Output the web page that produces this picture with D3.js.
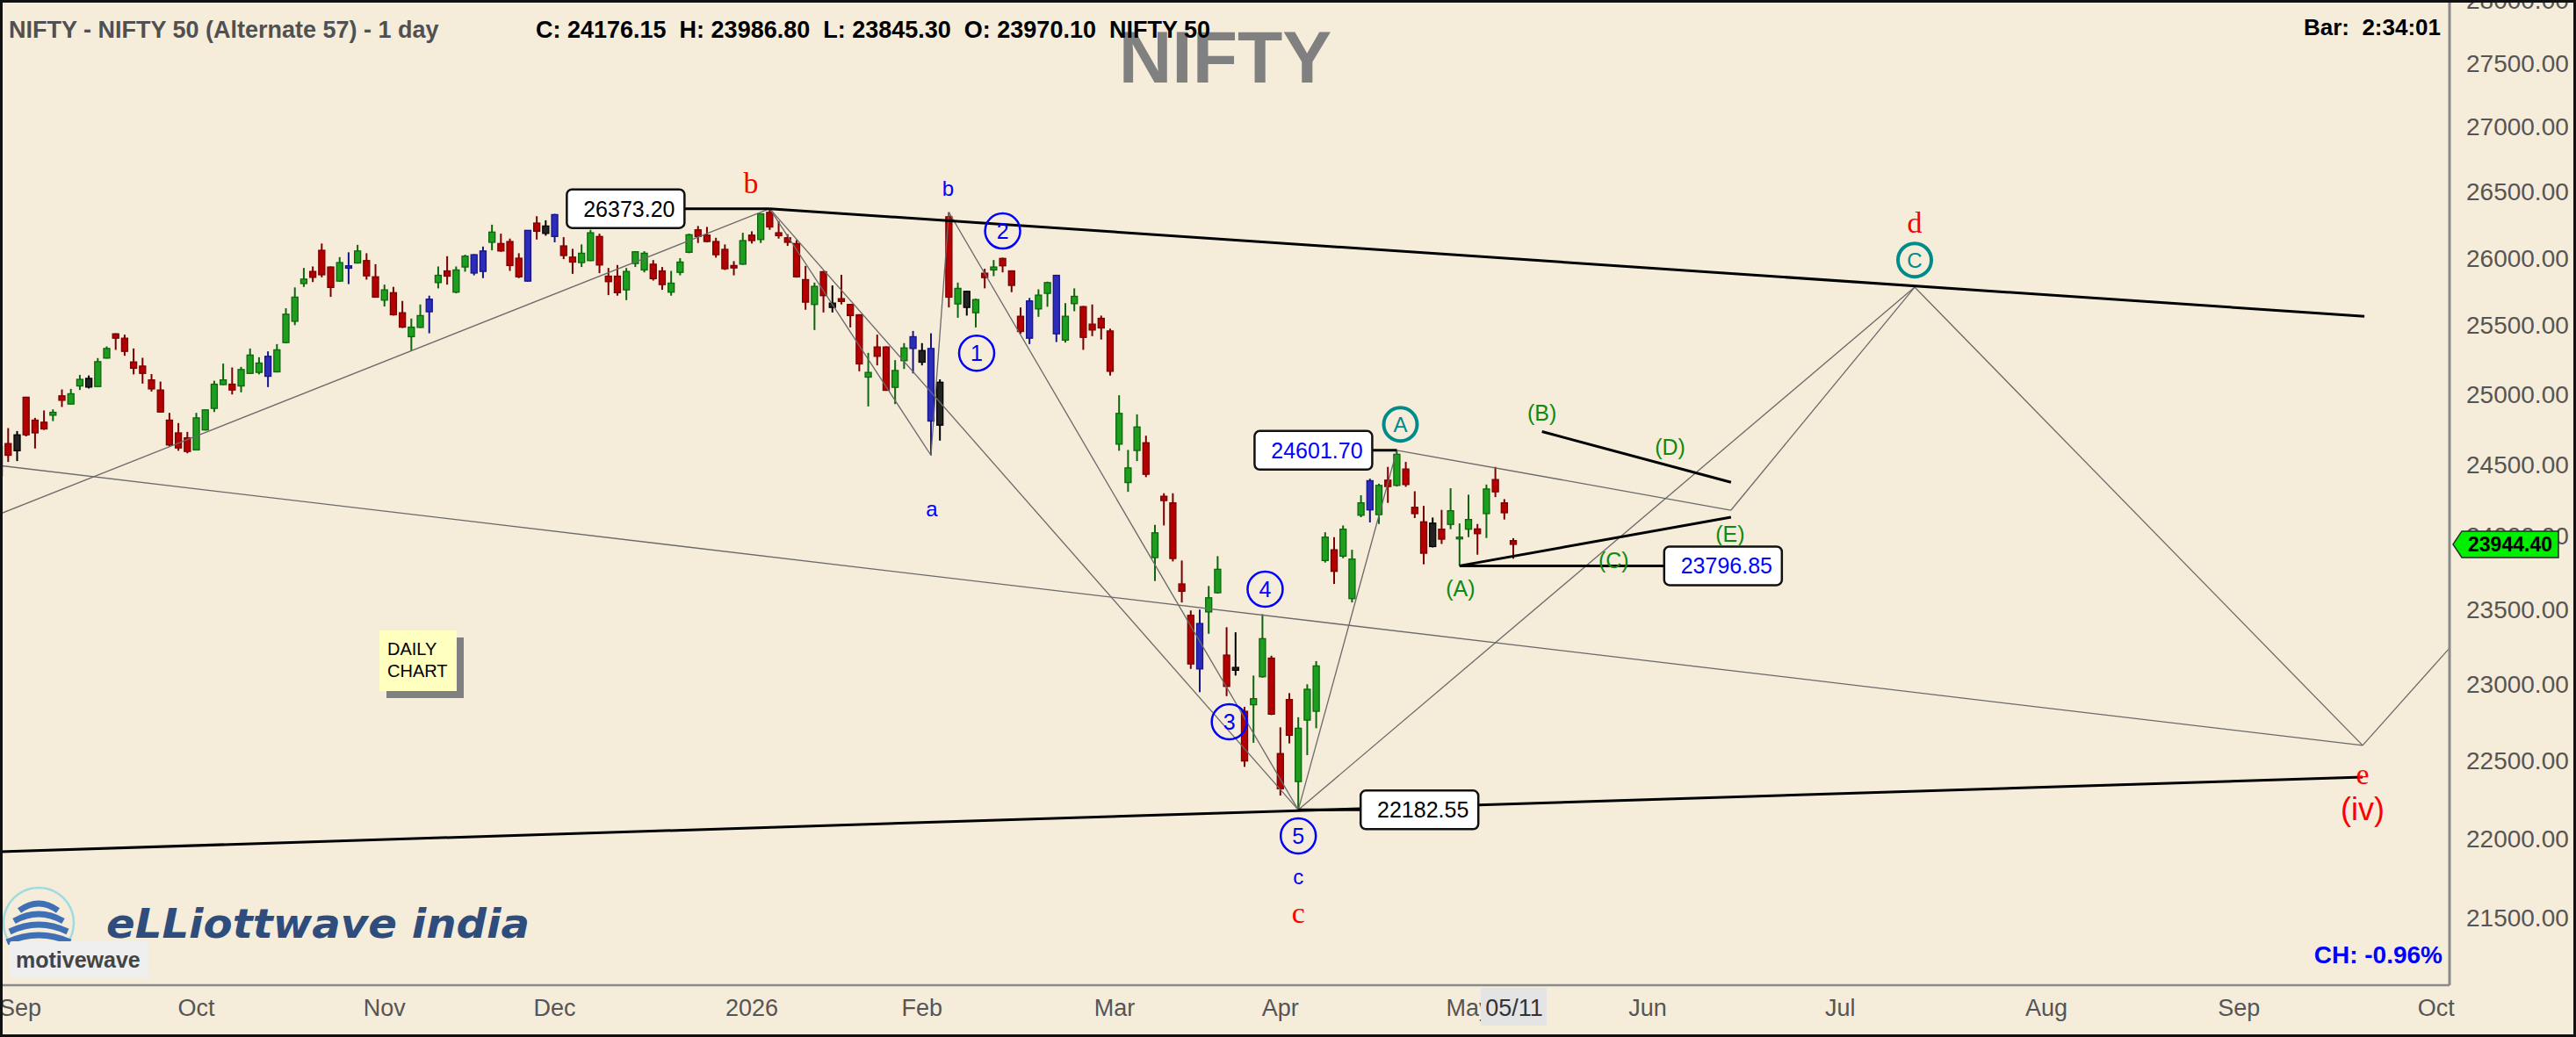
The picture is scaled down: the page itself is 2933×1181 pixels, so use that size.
<!DOCTYPE html>
<html>
<head>
<meta charset="utf-8">
<title>NIFTY daily</title>
<script src="https://cdn.jsdelivr.net/npm/d3@7/dist/d3.min.js"></script>
<style>
  body { margin: 0; background: #f5ecda; }
  svg { display: block; }
</style>
</head>
<body>
<script>
// NIFTY 50 daily candles (Sep 2025 - May 2026) with the Elliott wave count drawn on top

var width = 2933, height = 1181;
var plotRight = 2789, plotBottom = 1122;
var sans = "'Liberation Sans', Arial, sans-serif";
var serif = "'Liberation Serif', 'Times New Roman', serif";

// daily bars
var opens = [24422,24649,24598,24980,24816,24801,24851,24990,24931,25061,
  25053,25057,25263,25440,25408,25235,25205,25105,25032,24816,
  24725,24690,24604,24746,24900,25071,25074,25061,25152,25159,
  25131,25163,25376,25532,25811,25901,26059,25934,25829,25925,
  25964,25982,25861,25688,25743,25595,25419,25487,25602,25818,
  25905,25747,25934,25889,25901,26119,26110,26125,26000,25829,
  26264,26186,26163,26092,26008,25967,25982,26163,25866,25866,
  25764,25960,25912,25955,25905,25747,25894,26044,26213,26173,
  26125,26066,25945,25955,26173,26140,26345,26191,26153,26110,
  25840,25656,25899,25666,25699,25656,25580,25125,25344,25344,
  25051,25244,25333,25318,25333,25088,26312,25660,25753,25595,
  25888,25912,25998,25905,25569,25408,25623,25738,25872,25394,
  25662,25640,25511,25554,25461,24645,24374,24600,24655,23853,
  24278,24232,23673,23460,23405,23483,23613,23193,23111,22821,
  22864,23049,23173,22545,22898,22364,22763,22821,23833,23907,
  23863,23573,24146,24183,24150,24391,24354,24469,24201,24100,
  24091,24049,24082,23982,24049,24051,24157,24395,24232,23970.10];
var highs = [24639,24759,24738,24983,24832,24885,24893,25036,25040,25141,
  25137,25263,25348,25444,25434,25333,25265,25147,25093,24868,
  24795,24732,24868,24893,25099,25223,25195,25199,25333,25269,
  25312,25365,25628,25782,25927,25938,26110,25938,26008,26044,
  26100,26037,25955,25803,25786,25682,25552,25656,25721,25938,
  26015,25938,26026,26030,26087,26252,26184,26147,26037,26209,
  26316,26285,26334,26158,26070,26103,26213,26184,25927,25949,
  25927,26052,26052,25986,25934,25905,26000,26184,26242,26235,
  26153,26103,25978,26191,26202,26338,26373.20,26279,26180,26136,
  25942,25818,25905,25797,25876,25660,25584,25301,25434,25348,
  25248,25372,25461,25372,25444,25109,26346,25818,25757,25699,
  25921,25986,26004,25909,25634,25704,25768,25825,25876,25666,
  25775,25645,25656,25574,25478,24994,24604,24857,24705,24079,
  24299,24299,23833,23493,23499,23659,23863,23380,23346,22850,
  23057,23468,23189,22716,22941,22782,22999,23153,24028,23994,
  24075,23907,24285,24401,24366,24484,24601.70,24519,24313,24211,
  24130,24183,24334,24089,24289,24085,24360,24484,24258,23986.80];
var lows = [24412,24519,24525,24700,24614,24746,24809,24910,24927,25032,
  25043,25057,25259,25323,25280,25145,25078,25021,24872,24629,
  24598,24580,24602,24742,24874,25067,25000,25015,25147,25145,
  25053,25159,25372,25504,25786,25822,25857,25712,25824,25807,
  25960,25840,25706,25641,25574,25483,25316,25483,25444,25775,
  25803,25738,25899,25872,25851,26059,26048,25905,25851,25824,
  26140,26169,26119,25993,25883,25934,25978,25888,25725,25721,
  25688,25934,25894,25833,25764,25721,25872,26037,26114,26119,
  26004,25912,25872,25951,26110,26114,26213,26147,26092,25855,
  25617,25468,25597,25597,25656,25487,25167,24914,25210,25026,
  24931,25184,25152,25210,24566,24670,25634,25558,25574,25487,
  25775,25866,25894,25747,25440,25365,25565,25639,25380,25376,
  25606,25323,25423,25398,25136,24598,24309,24525,24412,23693,
  24075,23827,23547,23101,22947,23336,23607,22921,23057,22459,
  22615,23043,22796,22274,22611,22182.55,22535,22710,23819,23673,
  23849,23547,24132,24096,24085,24232,24346,24344,24126,23807,
  23923,23947,24049,23796.85,23994,23873,23988,24272,24116,23845.30];
var closes = [24629,24566,24711,24711,24725,24753,24872,24958,25005,25109,
  25116,25237,25333,25408,25312,25189,25152,25040,24874,24639,
  24618,24593,24832,24889,25074,25105,25032,25180,25285,25227,
  25276,25323,25584,25710,25844,25857,25876,25782,25967,25943,
  26054,25868,25710,25764,25580,25489,25489,25574,25695,25872,
  25866,25912,26015,26026,26054,26196,26054,25945,25861,26209,
  26202,26242,26328,26020,25971,26037,26191,25949,25825,25743,
  25901,26048,26037,25847,25803,25814,25971,26176,26163,26125,
  26026,25921,25927,26132,26132,26334,26235,26169,26119,25861,
  25673,25790,25721,25634,25678,25574,25221,25159,25276,25030,
  25173,25337,25419,25233,24809,24780,25710,25775,25634,25692,
  25855,25934,25943,25797,25457,25682,25725,25818,25440,25569,
  25716,25414,25468,25483,25167,24864,24477,24767,24432,24024,
  24248,23847,23623,23134,23101,23579,23773,22985,23092,22497,
  22904,23303,22802,22318,22664,22710,22966,23121,23994,23759,
  24049,23843,24232,24387,24354,24346,24573,24360,24157,23883,
  23929,23980,24177,23994,24116,24018,24329,24309,24163,23944.40];

// bars the source chart paints blue or black instead of green/red
var blueBars = [30,39,48,53,54,59,62,102,104,115,118,134,153];
var blackBars = [2,10,61,93,103,105,108,138,160];

var priceTicks = [21500,22000,22500,23000,23500,24000,24500,25000,25500,26000,26500,27000,27500,28000];
var monthLabels = ["Sep","Oct","Nov","Dec","2026","Feb","Mar","Apr","May","Jun","Jul","Aug","Sep","Oct"];
var monthBars = [0,22,43,62,84,103,124.5,143,164,184,205.5,228.5,250,272];
var cursorBar = 169, cursorLabel = "05/11";
var lastPrice = 23944.40;

// wave lines as [bar, price] pairs
var thinLines = [
  [[0,24153],[86,26373.2]],
  [[0,24494],[263.8,22598]],
  [[86,26373.2],[104,24566]],
  [[104,24566],[106,26346]],
  [[106,26346],[145,22182.55]],
  [[86,26373.2],[145,22182.55]],
  [[145,22182.55],[156,24601.7]],
  [[156,24601.7],[193.3,24181]],
  [[193.3,24181],[213.8,25784]],
  [[145,22182.55],[213.8,25784]],
  [[213.8,25784],[263.8,22598]],
  [[263.8,22598],[273.5,23240]]
];
var trendLines = [
  [[86,26373.2],[264,25569]],
  [[0,21917],[263.8,22393]],
  [[172.2,24734],[193.3,24376]],
  [[163,23796.85],[193.3,24132]]
];

// price call-outs: bar, price
var priceMarks = [[86,26373.20],[156,24601.70],[163,23796.85],[145,22182.55]];

// wave labels: text, bar, price
var redSerifLabels = [["b",83.9,26571],["c",145,21535],["d",213.8,26270],["e",263.8,22415]];
var redSansLabels = [["(iv)",263.8,22188]];
var blueLabels = [["b",105.9,26524],["a",104.1,24187],["c",145,21757]];
var blueCircles = [["1",109.1,25299],["2",112,26204],["3",137.3,22752],["4",141.3,23637],["5",145,22017]];
var tealCircles = [["A",156.4,24786],["C",213.8,25986]];
var greenLabels = [["(A)",163.1,23643],["(B)",172.2,24868],["(C)",180.2,23835],["(D)",186.5,24624],["(E)",193.2,24016]];

var x = d3.scaleLinear().domain([0, 273.5]).range([-0.9, plotRight]);
var y = d3.scaleLog().domain([28000, 21500]).range([0.8, 1046]);

var svg = d3.select("body").append("svg")
  .attr("width", width)
  .attr("height", height)
  .style("font-family", sans);

svg.append("rect").attr("width", width).attr("height", height).attr("fill", "#f5ecda");

svg.append("clipPath").attr("id", "plot")
  .append("rect").attr("width", plotRight).attr("height", plotBottom);

// big watermark and header
svg.append("text")
  .attr("x", 1395).attr("y", 94)
  .attr("text-anchor", "middle")
  .attr("font-size", 84).attr("font-weight", "bold")
  .attr("fill", "#808080")
  .text("NIFTY");

svg.append("text")
  .attr("x", 10).attr("y", 43)
  .attr("font-size", 27).attr("font-weight", "bold")
  .attr("fill", "#505050")
  .text("NIFTY - NIFTY 50 (Alternate 57) - 1 day");

svg.append("text")
  .attr("x", 610).attr("y", 43)
  .attr("font-size", 27).attr("font-weight", "bold")
  .attr("fill", "#000")
  .style("white-space", "pre")
  .text("C: 24176.15  H: 23986.80  L: 23845.30  O: 23970.10  NIFTY 50");

svg.append("text")
  .attr("x", 2779).attr("y", 40)
  .attr("text-anchor", "end")
  .attr("font-size", 26).attr("font-weight", "bold")
  .attr("fill", "#000")
  .style("white-space", "pre")
  .text("Bar:  2:34:01");

// candles
var plot = svg.append("g").attr("clip-path", "url(#plot)");

var paint = {
  up: ["#1e9e1e", "#0c660c"],
  down: ["#b40000", "#780000"],
  blue: ["#2c2cb8", "#14148c"],
  black: ["#222222", "#000000"]
};
function kind(i) {
  if (blueBars.indexOf(i) >= 0) return "blue";
  if (blackBars.indexOf(i) >= 0) return "black";
  return closes[i] >= opens[i] ? "up" : "down";
}

var bars = plot.selectAll("g.bar")
  .data(d3.range(opens.length))
  .enter().append("g")
  .attr("class", "bar");

bars.append("line")
  .attr("x1", function (i) { return x(i); })
  .attr("x2", function (i) { return x(i); })
  .attr("y1", function (i) { return y(highs[i]); })
  .attr("y2", function (i) { return y(lows[i]); })
  .attr("stroke", function (i) { return paint[kind(i)][1]; })
  .attr("stroke-width", 2);

bars.append("rect")
  .attr("x", function (i) { return x(i) - 3.5; })
  .attr("width", 7)
  .attr("y", function (i) { return y(Math.max(opens[i], closes[i])); })
  .attr("height", function (i) {
    return Math.max(1.5, y(Math.min(opens[i], closes[i])) - y(Math.max(opens[i], closes[i])));
  })
  .attr("fill", function (i) { return paint[kind(i)][0]; })
  .attr("stroke", function (i) { return paint[kind(i)][1]; })
  .attr("stroke-width", 1.3);

// wave lines
function seg(g, pair) {
  return g.append("line")
    .attr("x1", x(pair[0][0])).attr("y1", y(pair[0][1]))
    .attr("x2", x(pair[1][0])).attr("y2", y(pair[1][1]));
}
thinLines.forEach(function (p) {
  seg(plot, p).attr("stroke", "#6a6a6a").attr("stroke-width", 1.3);
});
trendLines.forEach(function (p) {
  seg(plot, p).attr("stroke", "#000").attr("stroke-width", 3);
});

// price call-out boxes; box edge offset from the bar and text colour
var markLayout = [
  { side: "left", gap: 97, color: "#000" },
  { side: "left", gap: 28, color: "#0000ff" },
  { side: "right", gap: 233, color: "#0000ff" },
  { side: "right", gap: 71, color: "#000" }
];
priceMarks.forEach(function (m, k) {
  var lay = markLayout[k];
  var px = x(m[0]), py = y(m[1]);
  var bw = 134, bh = 44;
  var bx = lay.side === "left" ? px - lay.gap - bw : px + lay.gap;
  var edge = lay.side === "left" ? bx + bw : bx;
  plot.append("line")
    .attr("x1", px).attr("x2", edge).attr("y1", py).attr("y2", py)
    .attr("stroke", "#000").attr("stroke-width", 3);
  plot.append("rect")
    .attr("x", bx).attr("y", py - bh / 2)
    .attr("width", bw).attr("height", bh)
    .attr("rx", 6)
    .attr("fill", "#fff").attr("stroke", "#111").attr("stroke-width", 2.5);
  plot.append("text")
    .attr("x", bx + bw / 2 + 4).attr("y", py)
    .attr("dy", "0.36em")
    .attr("text-anchor", "middle")
    .attr("font-size", 25)
    .attr("fill", lay.color)
    .text(d3.format(".2f")(m[1]));
});

// wave labels
function labels(list, size, color, family) {
  list.forEach(function (l) {
    plot.append("text")
      .attr("x", x(l[1])).attr("y", y(l[2]))
      .attr("dy", "0.35em")
      .attr("text-anchor", "middle")
      .attr("font-size", size)
      .attr("font-family", family)
      .attr("fill", color)
      .text(l[0]);
  });
}
function circled(list, r, size, color, sw) {
  list.forEach(function (l) {
    var cx = x(l[1]), cy = y(l[2]);
    plot.append("circle")
      .attr("cx", cx).attr("cy", cy).attr("r", r)
      .attr("fill", "none").attr("stroke", color).attr("stroke-width", sw);
    plot.append("text")
      .attr("x", cx).attr("y", cy)
      .attr("dy", "0.36em")
      .attr("text-anchor", "middle")
      .attr("font-size", size)
      .attr("fill", color)
      .text(l[0]);
  });
}
labels(redSerifLabels, 34, "#ff0000", serif);
labels(redSansLabels, 36, "#ff0000", sans);
labels(blueLabels, 24, "#0000ff", sans);
labels(greenLabels, 25, "#0f8a0f", sans);
circled(blueCircles, 20, 25, "#0000ff", 2.5);
circled(tealCircles, 19, 24, "#008b8b", 4);

// note box
svg.append("rect").attr("x", 440).attr("y", 726).attr("width", 88).attr("height", 69).attr("fill", "#808080");
svg.append("rect").attr("x", 432).attr("y", 718).attr("width", 88).attr("height", 69).attr("fill", "#ffffc0");
svg.append("text").attr("x", 441).attr("y", 746).attr("font-size", 20).attr("fill", "#000").text("DAILY");
svg.append("text").attr("x", 441).attr("y", 771).attr("font-size", 20).attr("fill", "#000").text("CHART");

// logo
var logo = svg.append("g");
logo.append("circle").attr("cx", 44).attr("cy", 1051).attr("r", 40)
  .attr("fill", "none").attr("stroke", "#9fdbe0").attr("stroke-width", 2.5);
[[1031, 22], [1043, 28], [1055, 33], [1067, 36]].forEach(function (a) {
  logo.append("path")
    .attr("d", "M" + (44 - a[1]) + "," + (a[0] + 6) + " Q44," + (a[0] - 10) + " " + (44 + a[1]) + "," + (a[0] + 6))
    .attr("fill", "none").attr("stroke", "#3f6fb5").attr("stroke-width", 7);
});
logo.append("text")
  .attr("x", 121).attr("y", 1068)
  .attr("font-family", "'DejaVu Sans', sans-serif")
  .attr("font-size", 46).attr("font-weight", "bold").attr("font-style", "italic")
  .attr("textLength", 482).attr("lengthAdjust", "spacingAndGlyphs")
  .attr("fill", "#2e4c7c")
  .text("eLLiottwave india");
logo.append("rect").attr("x", 11).attr("y", 1072).attr("width", 158).attr("height", 42)
  .attr("rx", 3).attr("fill", "#efefef");
logo.append("text").attr("x", 18).attr("y", 1102)
  .attr("font-size", 25).attr("font-weight", "bold").attr("fill", "#444")
  .text("motivewave");

svg.append("text")
  .attr("x", 2781).attr("y", 1097)
  .attr("text-anchor", "end")
  .attr("font-size", 28).attr("font-weight", "bold")
  .attr("fill", "#0000ff")
  .text("CH: -0.96%");

// axes
var yAxis = svg.append("g")
  .attr("transform", "translate(" + plotRight + ",0)")
  .call(d3.axisRight(y).tickValues(priceTicks).tickFormat(d3.format(".2f")).tickSize(0).tickPadding(19));
yAxis.select(".domain").remove();
yAxis.attr("font-size", 28).attr("font-family", sans).attr("color", "#555");

var xAxis = svg.append("g")
  .attr("transform", "translate(0," + plotBottom + ")")
  .call(d3.axisBottom(x).tickValues(monthBars)
    .tickFormat(function (d, i) { return monthLabels[i]; })
    .tickSize(0).tickPadding(16));
xAxis.select(".domain").remove();
xAxis.attr("font-size", 27).attr("font-family", sans).attr("color", "#555");
xAxis.selectAll(".tick").attr("transform", function (d) {
  return "translate(" + Math.max(x(d), 23) + ",0)";
});

svg.append("line").attr("x1", 0).attr("x2", plotRight).attr("y1", plotBottom).attr("y2", plotBottom)
  .attr("stroke", "#8a8a8a").attr("stroke-width", 2.5);
svg.append("line").attr("x1", plotRight).attr("x2", plotRight).attr("y1", 0).attr("y2", plotBottom)
  .attr("stroke", "#8a8a8a").attr("stroke-width", 3);

// cursor date on the time axis
var cx0 = x(cursorBar);
svg.append("rect").attr("x", cx0 - 37).attr("y", 1125).attr("width", 75).attr("height", 43).attr("fill", "#e4e4e4");
svg.append("text").attr("x", cx0 + 1).attr("y", 1157)
  .attr("text-anchor", "middle").attr("font-size", 27).attr("fill", "#333")
  .text(cursorLabel);

// last price tag
var ty = y(lastPrice);
svg.append("path")
  .attr("d", "M2793," + ty + " L2803," + (ty - 15) + " L2913," + (ty - 15) + " L2913," + (ty + 15) + " L2803," + (ty + 15) + " Z")
  .attr("fill", "#00ee00").attr("stroke", "#2a2a2a").attr("stroke-width", 1.5);
svg.append("text")
  .attr("x", 2858).attr("y", ty).attr("dy", "0.36em")
  .attr("text-anchor", "middle")
  .attr("font-size", 23).attr("font-weight", "bold").attr("fill", "#000")
  .text(d3.format(".2f")(lastPrice));

// outer frame
svg.append("rect").attr("x", 1.5).attr("y", 1.5).attr("width", width - 3).attr("height", height - 3)
  .attr("fill", "none").attr("stroke", "#111").attr("stroke-width", 3);
</script>
</body>
</html>
